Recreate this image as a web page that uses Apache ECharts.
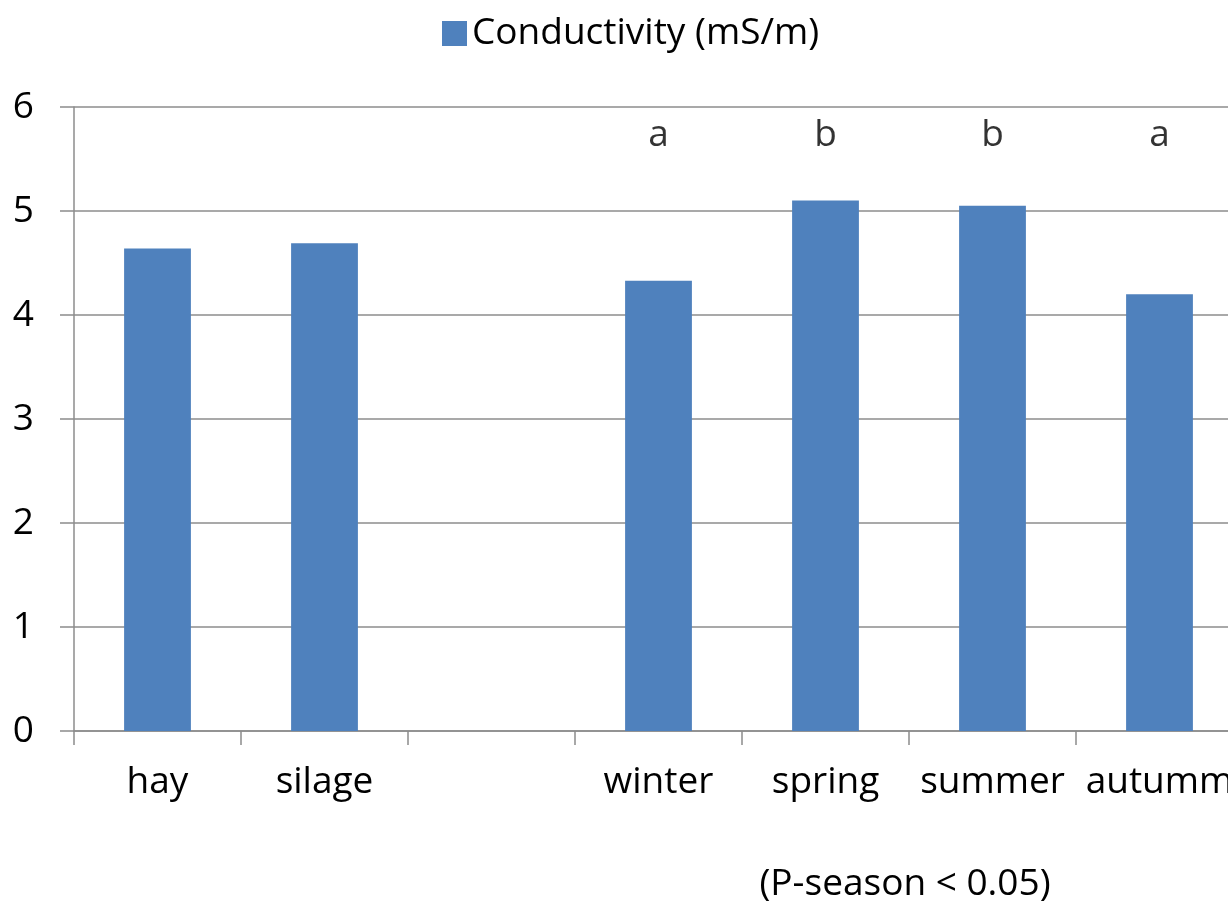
<!DOCTYPE html>
<html>
<head>
<meta charset="utf-8">
<script src="https://cdn.jsdelivr.net/npm/echarts@6/dist/echarts.min.js"></script>
<style>html,body{margin:0;padding:0;background:#fff;overflow:hidden;width:1228px;height:904px;}#c{width:1243px;height:904px;}</style>
</head>
<body>
<div id="c"></div>
<script>
const categories = ['hay', 'silage', '', 'winter', 'spring', 'summer', 'autumm'];
const conductivity = [4.64, 4.69, null, 4.33, 5.10, 5.05, 4.20];
const letters = ['', '', '', 'a', 'b', 'b', 'a'];
const letterLevel = 5.73;
const yTicks = [0, 1, 2, 3, 4, 5, 6];

const FONT = '"Open Sans", sans-serif';
const FS = 37;
const chart = echarts.init(document.getElementById('c'));
chart.setOption({
  animation: false,
  textStyle: { fontFamily: FONT },
  legend: {
    data: ['Conductivity (mS/m)'],
    left: 437, top: 10,
    itemWidth: 25, itemHeight: 25, itemGap: 10,
    icon: 'rect',
    textStyle: { fontSize: FS, color: '#000', fontFamily: FONT }
  },
  grid: { left: 74, right: 0, top: 107, bottom: 173, containLabel: false },
  xAxis: {
    type: 'category',
    data: categories,
    axisLine: { lineStyle: { color: '#8c8c8c', width: 1.5 } },
    axisTick: { show: true, interval: 0, length: 14, lineStyle: { color: '#8c8c8c', width: 1.5 } },
    axisLabel: { interval: 0, fontSize: FS, color: '#000', margin: 33, fontFamily: FONT }
  },
  yAxis: {
    type: 'value', min: yTicks[0], max: yTicks[yTicks.length - 1], interval: 1,
    axisLine: { show: true, lineStyle: { color: '#8c8c8c', width: 1.5 } },
    axisTick: { show: true, length: 14, lineStyle: { color: '#8c8c8c', width: 1.5 } },
    axisLabel: { fontSize: FS, color: '#000', margin: 40, fontFamily: FONT },
    splitLine: { lineStyle: { color: '#8c8c8c', width: 1.5 } }
  },
  series: [
    {
      name: 'Conductivity (mS/m)',
      type: 'bar',
      data: conductivity,
      barWidth: '40%',
      itemStyle: { color: '#4f81bd' }
    },
    {
      name: 'letters',
      type: 'scatter',
      symbolSize: 0,
      data: letters.map((l, i) => l ? [i, letterLevel] : null).filter(d => d),
      label: {
        show: true, position: 'inside',
        formatter: p => letters[p.data[0]],
        fontSize: FS, color: '#000', fontFamily: FONT
      },
      silent: true
    }
  ],
  graphic: [{
    type: 'text', x: 905, y: 884,
    style: { text: '(P-season < 0.05)', fill: '#000', font: FS + 'px ' + FONT, textAlign: 'center', textVerticalAlign: 'middle' }
  }]
});
</script>
</body>
</html>
